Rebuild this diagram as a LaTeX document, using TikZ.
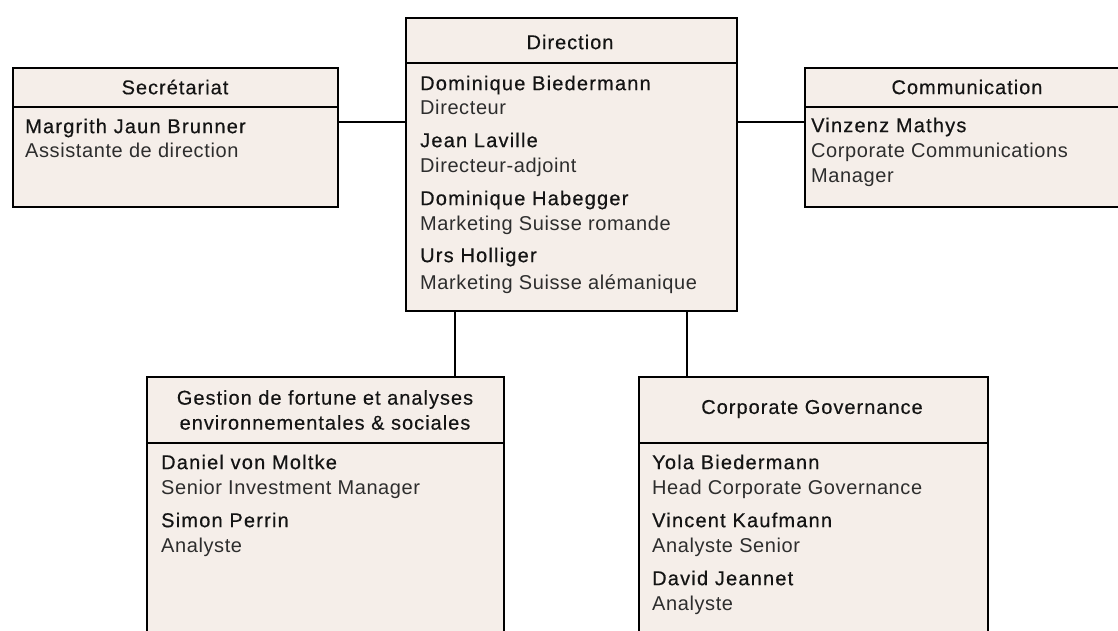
\documentclass[tikz,border=0pt]{standalone}
\usepackage{fontspec}
\setmainfont{Liberation Sans}
\newfontfamily\namefont[LetterSpace=6,FakeBold=0.5]{Liberation Sans}
\newfontfamily\headfont[LetterSpace=5,FakeBold=0.3]{Liberation Sans}
\newfontfamily\rolefont[LetterSpace=3]{Liberation Sans}
\definecolor{boxfill}{RGB}{245,238,233}
\definecolor{nametext}{RGB}{20,20,20}
\definecolor{roletext}{RGB}{45,45,45}
\begin{document}
\begin{tikzpicture}[x=1pt,y=-1pt,
  box/.style={draw=black, line width=2pt, fill=boxfill, inner sep=0pt, anchor=north west},
  divider/.style={draw=black, line width=2pt},
  link/.style={draw=black, line width=1.1pt},
  hd/.style={font=\headfont\fontsize{20}{25}\selectfont, text=nametext, inner sep=0pt, align=center},
  nm/.style={font=\namefont\fontsize{20}{24}\selectfont, text=nametext, anchor=west, inner sep=0pt, text height=14.3pt, text depth=0pt},
  rl/.style={font=\rolefont\fontsize{20}{24}\selectfont, text=roletext, anchor=west, inner sep=0pt, text height=14.3pt, text depth=0pt}]
\useasboundingbox (0,0) rectangle (1118,630);
\clip (0,0) rectangle (1118,630);

% boxes
\node[box, minimum width=325pt, minimum height=139pt] (sec) at (12,67) {};
\node[box, minimum width=331pt, minimum height=293pt] (dir) at (405,17) {};
\node[box, minimum width=326pt, minimum height=139pt] (com) at (804,67) {};
\node[box, minimum width=357pt, minimum height=300pt] (ges) at (146,376) {};
\node[box, minimum width=349pt, minimum height=300pt] (cg) at (638,376) {};

% header dividers
\draw[divider] (sec.west |- 0,107) -- (sec.east |- 0,107);
\draw[divider] (dir.west |- 0,63) -- (dir.east |- 0,63);
\draw[divider] (com.west |- 0,107) -- (com.east |- 0,107);
\draw[divider] (ges.west |- 0,443) -- (ges.east |- 0,443);
\draw[divider] (cg.west |- 0,443) -- (cg.east |- 0,443);

% connectors
\draw[link] (sec.east |- 0,122) -- (dir.west |- 0,122);
\draw[link] (dir.east |- 0,122) -- (com.west |- 0,122);
\draw[link] (dir.south -| 455,0) -- (ges.north -| 455,0);
\draw[link] (dir.south -| 687,0) -- (cg.north -| 687,0);

% Secretariat
\node[hd] (secT) at (175,87) {Secrétariat};
\node[nm] (secN1) at (25,126) {Margrith Jaun Brunner};
\node[rl] (secR1) at (25,150) {Assistante de direction};

% Direction
\node[hd] (dirT) at (570,42) {Direction};
\node[nm] (dirN1) at (420,83) {Dominique Biedermann};
\node[rl] (dirR1) at (420,107) {Directeur};
\node[nm] (dirN2) at (420,140) {Jean Laville};
\node[rl] (dirR2) at (420,165) {Directeur-adjoint};
\node[nm] (dirN3) at (420,198) {Dominique Habegger};
\node[rl] (dirR3) at (420,223) {Marketing Suisse romande};
\node[nm] (dirN4) at (420,255) {Urs Holliger};
\node[rl] (dirR4) at (420,282) {Marketing Suisse alémanique};

% Communication
\node[hd] (comT) at (967,87) {Communication};
\node[nm] (comN1) at (811,125) {Vinzenz Mathys};
\node[rl] (comR1) at (811,150) {Corporate Communications};
\node[rl] (comR1b) at (811,175) {Manager};

% Gestion
\node[hd] (gesT) at (325,410) {Gestion de fortune et analyses\\environnementales \& sociales};
\node[nm] (gesN1) at (161,462) {Daniel von Moltke};
\node[rl] (gesR1) at (161,487) {Senior Investment Manager};
\node[nm] (gesN2) at (161,520) {Simon Perrin};
\node[rl] (gesR2) at (161,545) {Analyste};

% Corporate Governance
\node[hd] (cgT) at (812,409) {Corporate Governance};
\node[nm] (cgN1) at (652,462) {Yola Biedermann};
\node[rl] (cgR1) at (652,487) {Head Corporate Governance};
\node[nm] (cgN2) at (652,520) {Vincent Kaufmann};
\node[rl] (cgR2) at (652,545) {Analyste Senior};
\node[nm] (cgN3) at (652,578) {David Jeannet};
\node[rl] (cgR3) at (652,603) {Analyste};
\end{tikzpicture}
\end{document}
